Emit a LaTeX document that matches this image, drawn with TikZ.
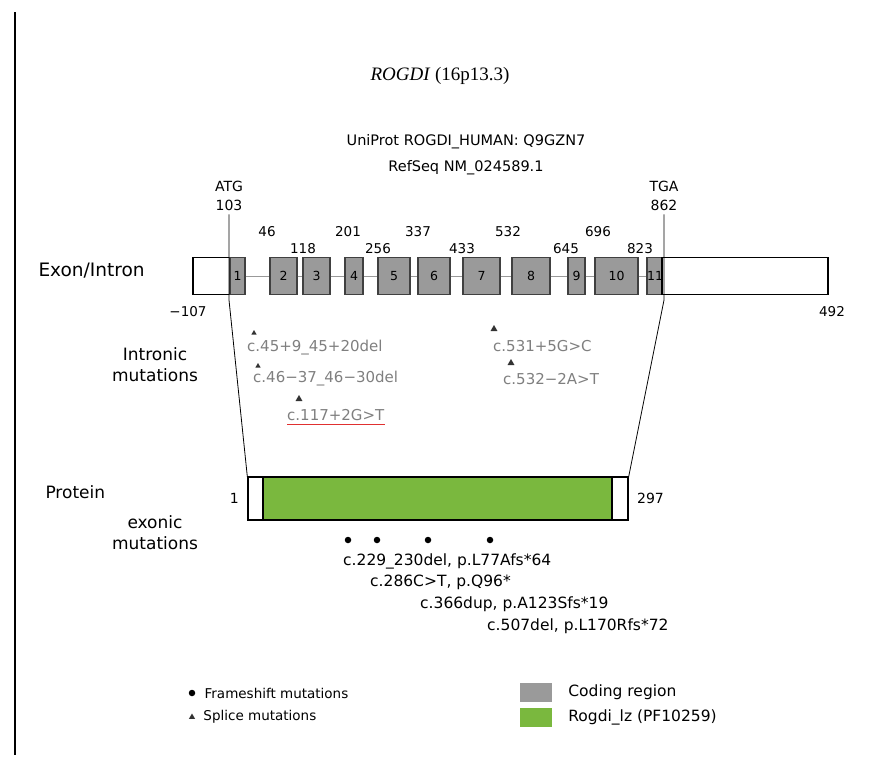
\documentclass[tikz,border=0pt]{standalone}
\usepackage{fontspec}
\setmainfont{DejaVu Sans}
\newfontfamily\titlefont{Liberation Serif}
\usetikzlibrary{positioning,shapes.geometric}
\definecolor{exongray}{HTML}{9A9A9A}
\definecolor{pfamgreen}{HTML}{7AB83E}
\definecolor{mutgray}{HTML}{7F7F7F}
\definecolor{spellred}{HTML}{E03030}
\tikzset{
  exon/.style={draw=black!75, fill=exongray, line width=1.3pt, minimum height=37pt, inner sep=0pt, font=\fontsize{12.5}{14}\selectfont},
  utr/.style={draw=black, fill=white, line width=1.3pt, minimum height=37pt, inner sep=0pt},
  intron/.style={black!40, line width=1pt},
  posnum/.style={inner sep=1pt, font=\fontsize{13.5}{15}\selectfont},
  lbl/.style={align=center, font=\fontsize{17}{21}\selectfont},
  mut/.style={anchor=west, inner sep=0pt, text=mutgray, font=\fontsize{15}{18}\selectfont},
  exmut/.style={anchor=west, inner sep=0pt, font=\fontsize{15.5}{18}\selectfont},
  splice/.style={regular polygon, regular polygon sides=3, fill=black!80, inner sep=0pt, minimum size=8pt},
  fshift/.style={circle, fill=black, inner sep=0pt, minimum size=6.5pt},
  keybox/.style={minimum width=32pt, minimum height=19pt, inner sep=0pt},
  keytext/.style={inner sep=0pt, font=\fontsize{13.5}{16}\selectfont},
}
\begin{document}
\begin{tikzpicture}[x=1pt,y=-1pt,font=\fontsize{14}{18}\selectfont]
\useasboundingbox (0,0) rectangle (881,763);
\draw[line width=1.5pt] (15,12) -- (15,755);

% header
\node (title) at (440,76) {\titlefont\fontsize{19}{22}\selectfont\textit{ROGDI} (16p13.3)};
\node[align=center, font=\fontsize{14.5}{26}\selectfont] (ids) at (466,155) {UniProt ROGDI\_HUMAN: Q9GZN7\\RefSeq NM\_024589.1};
\node[align=center, font=\fontsize{14}{19}\selectfont] (atg) at (229,196) {ATG\\103};
\node[align=center, font=\fontsize{14}{19}\selectfont] (tga) at (664,196) {TGA\\862};

% exon / intron structure
\node[lbl, anchor=west, font=\fontsize{18.5}{21}\selectfont] (genelbl) at (35,271) {Exon/Intron};
\node[utr, minimum width=37pt] (utr5) at (211.5,276) {};
\node[exon, minimum width=15pt] (e1) at (237.5,276) {1};
\foreach \n/\a/\b in {2/270/297, 3/303/330, 4/345/363, 5/378/410, 6/418/450,
                      7/463/500, 8/512/550, 9/568/585, 10/595/638}
  \node[exon, minimum width=\b-\a] (e\n) at ({(\a+\b)/2},276) {\n};
\node[exon, minimum width=14pt] (e11) at (655,276) {11};
\node[utr, minimum width=166pt] (utr3) at (745,276) {};
\foreach \a/\b in {1/2,2/3,3/4,4/5,5/6,6/7,7/8,8/9,9/10,10/11}
  \draw[intron] (e\a.east) -- (e\b.west);

% exon boundaries
\foreach \p/\x in {46/267, 201/348, 337/418, 532/508, 696/598}
  \node[posnum] (up\p) at (\x,232) {\p};
\foreach \p/\x in {118/303, 256/378, 433/462, 645/566, 823/640}
  \node[posnum] (lo\p) at (\x,249) {\p};
\node[posnum] (start) at (188,312) {−107};
\node[posnum] (end) at (832,312) {492};

% intronic mutations
\node[lbl] (intlbl) at (155,365) {Intronic\\mutations};
\node[splice, minimum size=6pt] (s1) at (254,333) {};
\node[mut] (m1) at (247,348) {c.45+9\_45+20del};
\node[splice, minimum size=6pt] (s2) at (258,366) {};
\node[mut] (m2) at (253,379) {c.46−37\_46−30del};
\node[splice] (s3) at (299,399) {};
\node[mut] (m3) at (287,415) {c.117+2G>T};
\draw[spellred, line width=1.1pt] ([yshift=-4pt]m3.south west) -- ([yshift=-4pt]m3.south east);
\node[splice] (s4) at (494,329) {};
\node[mut] (m4) at (493,346) {c.531+5G>C};
\node[splice] (s5) at (511,363) {};
\node[mut] (m5) at (503,379) {c.532−2A>T};

% protein
\node[lbl, anchor=west] (protlbl) at (42,492) {Protein};
\node[draw, fill=white, line width=1.3pt, minimum width=380pt, minimum height=42pt, inner sep=0pt] (prot) at (438,498.5) {};
\node[draw, fill=pfamgreen, line width=1.1pt, minimum width=349pt, minimum height=42pt, inner sep=0pt] (dom) at (437.5,498.5) {};
\draw[line width=1.3pt] (prot.north west) rectangle (prot.south east);
\node[left=5pt of prot] (aa1) {1};
\node[right=5pt of prot] (aa297) {297};
\draw[line width=0.8pt] (atg.south) -- (atg.south |- 0,300) -- (prot.north west);
\draw[line width=0.8pt] (tga.south) -- (tga.south |- 0,300) -- (prot.north east);

% exonic mutations
\node[lbl] (exlbl) at (155,533) {exonic\\mutations};
\foreach \i/\x in {1/348, 2/377, 3/428, 4/490}
  \node[fshift] (f\i) at (\x,540) {};
\node[exmut] (x1) at (343,561) {c.229\_230del, p.L77Afs*64};
\node[exmut] (x2) at (370,582) {c.286C>T, p.Q96*};
\node[exmut] (x3) at (420,604) {c.366dup, p.A123Sfs*19};
\node[exmut] (x4) at (487,626) {c.507del, p.L170Rfs*72};

% legend
\node[fshift] (keyfs) at (192,693) {};
\node[keytext, right=9pt of keyfs] (keyfstxt) {Frameshift mutations};
\node[splice, minimum size=7pt] (keysp) at (192,717) {};
\node[keytext, right=9pt of keysp] (keysptxt) {Splice mutations};
\node[keybox, fill=exongray] (keycds) at (536,692.5) {};
\node[keytext, font=\fontsize{15.5}{18}\selectfont, right=16pt of keycds] (keycdstxt) {Coding region};
\node[keybox, fill=pfamgreen] (keydom) at (536,717) {};
\node[keytext, font=\fontsize{15.5}{18}\selectfont, right=16pt of keydom] (keydomtxt) {Rogdi\_lz (PF10259)};
\end{tikzpicture}
\end{document}
